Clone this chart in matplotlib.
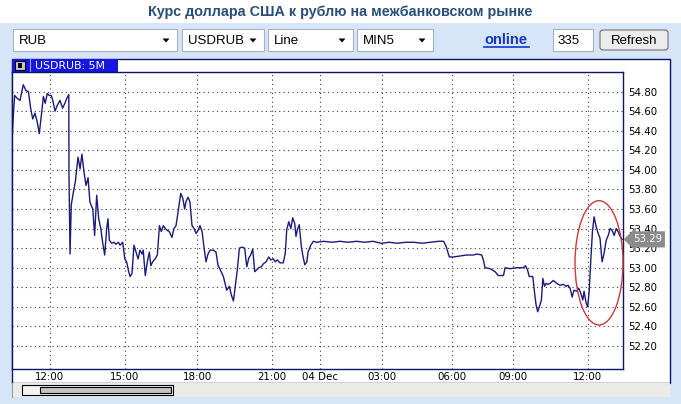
import matplotlib
matplotlib.use("Agg")
import matplotlib.pyplot as plt
from matplotlib.patches import Rectangle, Ellipse, Polygon, FancyBboxPatch
import numpy as np

TITLE = "Курс доллара США к рублю на межбанковском рынке"
CURRENCY = "RUB"
SYMBOL = "USDRUB"
CHART_TYPE = "Line"
PERIOD = "MIN5"
BARS_SHOWN = "335"
LEGEND = "USDRUB: 5M"

# x axis: 5-minute bar number from the left edge of the window
tick_bars = [18.5, 55.0, 90.4, 126.7, 150.2, 180.3, 214.8, 244.2, 280.8]
tick_labels = ["12:00", "15:00", "18:00", "21:00", "04 Dec",
               "03:00", "06:00", "09:00", "12:00"]
price_ticks = np.round(np.arange(52.2, 54.81, 0.2), 2)

# line vertices (bar number, close)
bars = [0.0, 0.6, 1.3, 2.6, 3.9, 5.5, 6.8, 8.0, 9.1, 10.1, 11.2, 12.3, 13.3,
        14.5, 15.3, 16.2, 17.2, 18.2, 19.2, 19.9, 21.0, 22.1, 23.4, 24.7,
        26.0, 26.7, 27.7, 27.8, 28.3, 28.9, 29.9, 30.9, 32.2, 33.2, 34.1,
        35.1, 36.1, 37.1, 38.0, 39.4, 40.3, 41.3, 42.3, 43.3, 44.2, 45.2,
        46.2, 46.8, 47.5, 48.6, 49.8, 50.7, 51.9, 52.7, 54.0, 55.0, 55.9,
        56.9, 57.6, 58.5, 59.5, 60.5, 61.5, 62.4, 63.4, 64.0, 65.0, 66.0,
        67.0, 67.7, 68.6, 69.8, 70.9, 71.9, 72.8, 73.8, 74.8, 75.8, 76.7,
        78.0, 79.0, 80.0, 81.0, 82.3, 83.3, 84.2, 84.9, 85.9, 86.8, 87.8,
        88.8, 89.8, 90.7, 91.7, 92.7, 93.7, 94.6, 95.6, 96.6, 98.2, 99.5,
        100.5, 101.1, 103.1, 104.7, 106.0, 107.0, 108.0, 108.9, 109.9,
        110.9, 112.2, 113.5, 114.5, 115.5, 116.4, 117.4, 118.4, 119.4,
        120.3, 121.6, 122.6, 123.9, 125.2, 126.2, 127.5, 128.4, 129.4,
        130.7, 132.3, 133.3, 134.0, 135.0, 136.0, 136.9, 137.9, 138.5,
        139.2, 140.1, 141.1, 141.8, 142.8, 143.8, 144.4, 145.7, 147.0,
        148.6, 152.0, 156.0, 160.0, 164.0, 168.0, 172.0, 176.0, 180.0,
        184.0, 188.0, 192.0, 196.0, 200.0, 204.0, 208.0, 210.5, 211.7,
        213.3, 215.3, 218.5, 221.8, 225.0, 226.7, 229.1, 229.9, 230.7,
        233.2, 235.6, 237.2, 239.7, 240.5, 242.9, 246.2, 249.4, 250.4,
        251.4, 252.3, 254.0, 255.0, 255.6, 256.4, 257.2, 258.2, 258.9,
        259.7, 260.5, 261.3, 262.4, 264.0, 265.7, 267.3, 268.9, 270.2,
        271.2, 272.2, 273.2, 274.1, 275.5, 276.4, 277.4, 278.4, 279.0,
        280.0, 280.8, 281.5, 282.3, 283.1, 283.9, 284.9, 285.9, 286.8,
        287.8, 288.8, 289.8, 290.8, 291.7, 292.7, 293.7, 294.7, 295.6,
        296.6, 297.6]
close = [54.27, 54.54, 54.76, 54.73, 54.71, 54.87, 54.81, 54.80, 54.63,
         54.52, 54.58, 54.49, 54.37, 54.59, 54.75, 54.68, 54.78, 54.76,
         54.76, 54.71, 54.60, 54.66, 54.71, 54.63, 54.69, 54.73, 54.77,
         53.95, 53.14, 53.64, 53.77, 53.88, 54.13, 54.01, 54.16, 53.98,
         53.84, 53.92, 53.67, 53.60, 53.33, 53.74, 53.50, 53.40, 53.26,
         53.13, 53.40, 53.50, 53.28, 53.25, 53.26, 53.24, 53.26, 53.23,
         53.26, 53.09, 53.06, 52.96, 52.91, 52.94, 53.23, 53.16, 53.09,
         53.18, 53.14, 53.18, 52.92, 53.06, 53.16, 53.02, 53.06, 53.09,
         53.13, 53.43, 53.37, 53.43, 53.40, 53.38, 53.37, 53.31, 53.40,
         53.43, 53.57, 53.76, 53.71, 53.60, 53.68, 53.72, 53.67, 53.43,
         53.40, 53.35, 53.38, 53.43, 53.37, 53.20, 53.06, 53.14, 53.18,
         53.18, 53.16, 53.02, 53.00, 52.91, 52.77, 52.81, 52.72, 52.66,
         52.81, 52.98, 53.20, 53.21, 53.20, 53.01, 53.10, 53.13, 53.19,
         52.96, 52.98, 53.00, 53.01, 53.04, 53.06, 53.11, 53.08, 53.09,
         53.06, 53.08, 53.05, 53.05, 53.15, 53.39, 53.47, 53.40, 53.51,
         53.45, 53.32, 53.39, 53.44, 53.22, 53.13, 53.03, 53.06, 53.16,
         53.23, 53.27, 53.26, 53.27, 53.26, 53.27, 53.26, 53.27, 53.26,
         53.27, 53.25, 53.26, 53.25, 53.26, 53.26, 53.25, 53.26, 53.27,
         53.27, 53.22, 53.11, 53.11, 53.12, 53.13, 53.13, 53.14, 53.13,
         53.08, 53.00, 52.99, 52.96, 52.92, 52.92, 53.00, 52.99, 53.00,
         53.00, 53.02, 52.98, 52.91, 52.91, 52.72, 52.62, 52.55, 52.60,
         52.67, 52.89, 52.81, 52.84, 52.83, 52.84, 52.87, 52.84, 52.82,
         52.83, 52.81, 52.82, 52.79, 52.70, 52.77, 52.76, 52.79, 52.74,
         52.67, 52.76, 52.64, 52.60, 52.76, 53.08, 53.37, 53.52, 53.42,
         53.35, 53.30, 53.06, 53.15, 53.28, 53.33, 53.40, 53.38, 53.33,
         53.40, 53.37, 53.32, 53.29]

W, H = 681, 404
BG = "#d6e5f7"
NAVY = "#0c1466"
UI_FONT = "Liberation Sans"

fig = plt.figure(figsize=(W / 100, H / 100), dpi=100)
fig.patch.set_facecolor(BG)

# page chrome drawn in pixel units
ui = fig.add_axes([0, 0, 1, 1], zorder=0)
ui.set_xlim(0, W)
ui.set_ylim(H, 0)
ui.axis("off")

ui.add_patch(Rectangle((0, 0), W, 23, fc="white", ec="none"))
ui.text(340, 12, TITLE, ha="center", va="center", fontsize=10.4,
        fontweight="bold", color="#2a5079", family=UI_FONT)


def combo(x0, x1, text):
    ui.add_patch(Rectangle((x0, 29), x1 - x0, 22, fc="white", ec="#a9b3bf", lw=0.8))
    ui.text(x0 + 6, 40.5, text, va="center", fontsize=9.5, family=UI_FONT)
    ax_ = x1 - 11
    ui.add_patch(Polygon([(ax_ - 3.5, 38.5), (ax_ + 3.5, 38.5), (ax_, 42.5)],
                         closed=True, fc="black", ec="none"))


combo(13, 177, CURRENCY)
combo(182, 264, SYMBOL)
combo(268, 353, CHART_TYPE)
combo(357, 433, PERIOD)

ui.text(506, 39.5, "online", ha="center", va="center", fontsize=10.5,
        fontweight="bold", color="#1238c4", family=UI_FONT)
ui.plot([484, 529], [47, 47], color="#1238c4", lw=1.2)

ui.add_patch(Rectangle((553, 29), 40, 22, fc="white", ec="#a9b3bf", lw=0.8))
ui.text(557, 40.5, BARS_SHOWN, va="center", fontsize=9.5, family=UI_FONT)

ui.add_patch(FancyBboxPatch((600, 30), 68, 20, boxstyle="round,pad=0,rounding_size=3",
                            fc="#ececec", ec="#707070", lw=0.8))
ui.text(634, 40.5, "Refresh", ha="center", va="center", fontsize=9.5, family=UI_FONT)

# chart panel
ui.add_patch(Rectangle((12, 59), 658, 324, fc="white", ec=NAVY, lw=1))
ui.add_patch(Rectangle((12, 383), 658, 14, fc="#ecebe7", ec="none"))
ui.plot([12, 12], [383, 397], color="#9a9a9a", lw=0.8)
ui.add_patch(Rectangle((22, 385), 151, 10, fc="#f2f2f2", ec="black", lw=0.8))
ui.add_patch(Rectangle((40, 387), 131, 6, fc="#c3c3c3", ec="black", lw=0.8))

# legend tab
ui.add_patch(Rectangle((12, 59), 106, 13, fc="#1616e0", ec="none"))
ui.add_patch(Rectangle((15, 61), 10, 9, fc="#c8c8c8", ec="black", lw=0.8))
ui.add_patch(Rectangle((18, 63), 4, 5, fc="black", ec="none"))
ui.plot([29.5, 29.5], [59, 72], color="#8fa8ff", lw=0.8)
ui.text(35, 66, LEGEND, va="center", fontsize=7.8, color="white", family="DejaVu Sans")

# price chart
ax = fig.add_axes([12 / W, (H - 369) / H, 611 / W, 297 / H], zorder=2)
ax.set_facecolor("white")
ax.plot(bars, close, color="#1b1b7c", lw=1.0)
ax.set_xlim(0, 298)
ax.set_ylim(51.965, 55.0)
ax.set_xticks(tick_bars)
ax.set_xticklabels(tick_labels)
ax.set_yticks(price_ticks)
ax.set_yticklabels([f"{v:.2f}" for v in price_ticks])
ax.yaxis.tick_right()
ax.tick_params(axis="both", length=0, labelsize=7.4, colors="black")
ax.tick_params(axis="y", pad=4)
ax.tick_params(axis="x", pad=2.5)
ax.grid(True, color="#3a3a3a", lw=0.8, linestyle=(0, (1, 3)))
for s in ax.spines.values():
    s.set_color(NAVY)
    s.set_linewidth(1)

# last price tag
last = close[-1]
ax.annotate(f"{last:.2f}", xy=(1.0, last), xycoords=("axes fraction", "data"),
            xytext=(7, 0), textcoords="offset points", va="center", ha="left",
            fontsize=7.4, color="white", annotation_clip=False, zorder=6,
            bbox=dict(boxstyle="larrow,pad=0.3", fc="#8b8b8b", ec="none"))

# hand drawn highlight around the last session
ax.add_patch(Ellipse((286.3, 53.05), 23.4, 1.27, fill=False, ec="#cc3a3a",
                     lw=1.0, clip_on=False, zorder=4))

fig.savefig("out.png", dpi=100, facecolor=fig.get_facecolor())
